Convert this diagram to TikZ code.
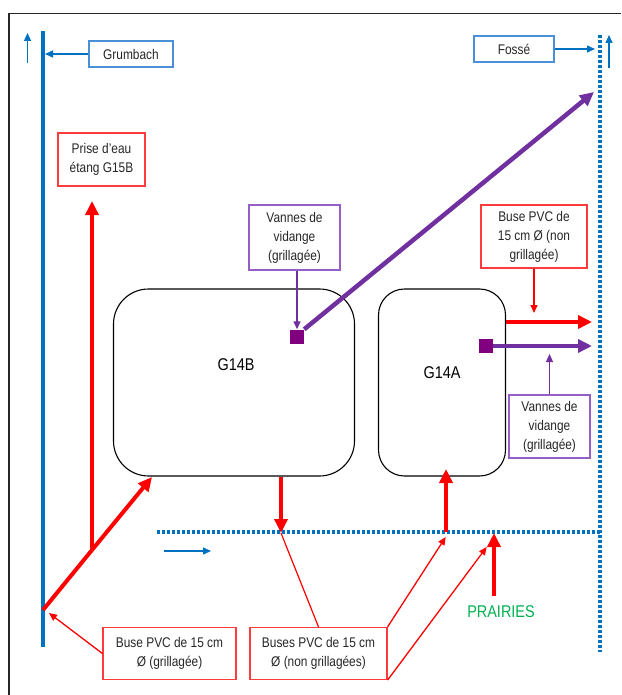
\documentclass[tikz,border=0pt]{standalone}
\usepackage{fontspec}
\setmainfont{Liberation Sans}[FakeStretch=0.85]
\usetikzlibrary{arrows.meta,positioning}
\definecolor{eau}{HTML}{0070C0}
\definecolor{eaubox}{HTML}{4A90D9}
\definecolor{buse}{HTML}{FF0000}
\definecolor{busebox}{HTML}{FF3B3B}
\definecolor{vanne}{HTML}{7030A0}
\definecolor{vannebox}{HTML}{9460C8}
\definecolor{carre}{HTML}{800080}
\definecolor{prairie}{HTML}{00B050}

\begin{document}
\begin{tikzpicture}[x=1pt,y=-1pt,
  font=\fontsize{14}{19}\selectfont,
  lbl/.style={line width=1.2pt,align=center,inner sep=0pt,fill=white,text=black!85},
  eaulbl/.style={lbl,draw=eaubox},
  buselbl/.style={lbl,draw=busebox},
  vannelbl/.style={lbl,draw=vannebox},
  etang/.style={draw,line width=1.1pt,inner sep=0pt},
  carrevanne/.style={fill=carre,minimum size=14pt,inner sep=0pt},
  epais/.style={line width=4pt,-{Triangle[length=14pt,width=13pt]}},
  fin/.style={line width=1.3pt,-{Triangle[length=8pt,width=7pt]}},
  pointille/.style={eau,line width=3.2pt,dash pattern=on 3pt off 2pt}]
  \useasboundingbox (0,0) rectangle (621,695);

  % Frame
  \draw[line width=1.5pt,black!85] (9,695) -- (9,13.3) -- (621,13.3);

  % Streams
  \coordinate (rtop) at (43,31);
  \coordinate (rbot) at (43,647);
  \coordinate (ftop) at (600,35);
  \coordinate (fbot) at (600,652);
  \coordinate (cw) at (157,532);
  \coordinate (ce) at (600,532);
  \draw[eau,line width=4pt] (rtop) -- (rbot);
  \draw[pointille] (ftop) -- (fbot);
  \draw[pointille] (cw) -- (ce);

  % Flow direction
  \draw[eau,fin] (27.5,63) -- (27.5,33);
  \draw[eau,fin] (609,68) -- (609,35);
  \draw[eau,fin] (164,551) -- (211,551);

  % Ponds
  \node[etang,minimum width=241pt,minimum height=187pt,rounded corners=35pt] (g14b) at (234,382.5) {};
  \node[font=\fontsize{17}{20}\selectfont] (g14blbl) at (236,365) {G14B};
  \node[etang,minimum width=127pt,minimum height=187pt,rounded corners=26pt] (g14a) at (442,382.5) {};
  \node[font=\fontsize{17}{20}\selectfont] (g14albl) at (442,373) {G14A};

  % Labels
  \node[eaulbl,minimum width=84pt,minimum height=26pt] (grumbach) at (131,54) {Grumbach};
  \node[eaulbl,minimum width=80pt,minimum height=26pt] (fosse) at (514,49) {Fossé};
  \node[buselbl,minimum width=87pt,minimum height=53pt] (prise) at (101.5,159.5) {Prise d’eau\\étang G15B};
  \node[vannelbl,minimum width=91pt,minimum height=65pt] (vanneB) at (294.5,237.5) {Vannes de\\vidange\\(grillagée)};
  \node[buselbl,minimum width=106pt,minimum height=63pt] (buseA) at (534,236.5) {Buse PVC de\\15 cm Ø (non\\grillagée)};
  \node[vannelbl,minimum width=81pt,minimum height=63pt] (vanneA) at (549.5,426.5) {Vannes de\\vidange\\(grillagée)};
  \node[buselbl,minimum width=133pt,minimum height=52pt] (busegr) at (169.5,653.5) {Buse PVC de 15 cm\\Ø (grillagée)};
  \node[buselbl,minimum width=137pt,minimum height=52pt] (busesng) at (318.5,653.5) {Buses PVC de 15 cm\\Ø (non grillagées)};
  \node[prairie,font=\fontsize{17}{20}\selectfont] (prairies) at (501,612) {PRAIRIES};

  % Valves
  \node[carrevanne] (vB) at (297,336.5) {};
  \node[carrevanne] (vA) at (486,346) {};

  % Pipe ends
  \coordinate (jn) at (92,550);
  \coordinate (prisept) at (92,201);
  \coordinate (rbank) at (43,610);
  \coordinate (g14bsw) at (152,477);
  \coordinate (fossept) at (594,92);
  \coordinate (outA) at (592,322);
  \coordinate (outvA) at (592,346);
  \coordinate (canalB) at (281,533);
  \coordinate (canalA) at (446,532);
  \coordinate (g14atip) at (446,469);
  \coordinate (prairiept) at (494,596);
  \coordinate (prairietip) at (494,533);

  % Thick pipes
  \draw[buse,line width=4pt] (rbank) -- (jn);
  \draw[buse,epais] (jn) -- (g14bsw);
  \draw[buse,epais] (jn) -- (prisept);
  \draw[buse,epais] (g14b.south -| canalB) -- (canalB);
  \draw[buse,epais] (canalA) -- (g14atip);
  \draw[buse,epais] (prairiept) -- (prairietip);
  \draw[buse,epais] (g14a.east |- outA) -- (outA);
  \draw[vanne,epais] (vA.east) -- (outvA);
  \draw[vanne,epais,line width=4.5pt] (vB.north east) -- (fossept);

  % Label pointers
  \draw[eau,fin,shorten >=2pt] (grumbach.west) -- (grumbach.west -| rtop);
  \draw[eau,fin,shorten >=5pt] (fosse.east) -- (fosse.east -| ftop);
  \draw[vanne,fin] (vanneB.south -| vB) -- (vB.north);
  \draw[buse,fin,shorten >=9pt] (buseA.south) -- (buseA.south |- outA);
  \draw[vanne,fin,shorten >=8pt] (vanneA.north) -- (vanneA.north |- vA);
  \draw[buse,fin] (busegr.west) -- (49,613);
  \draw[buse,line width=1.2pt] (busesng.north) -- (canalB);
  \draw[buse,fin] (busesng.north east) -- (445.7,537);
  \draw[buse,fin] (busesng.south east) -- (486.7,547);
\end{tikzpicture}
\end{document}
